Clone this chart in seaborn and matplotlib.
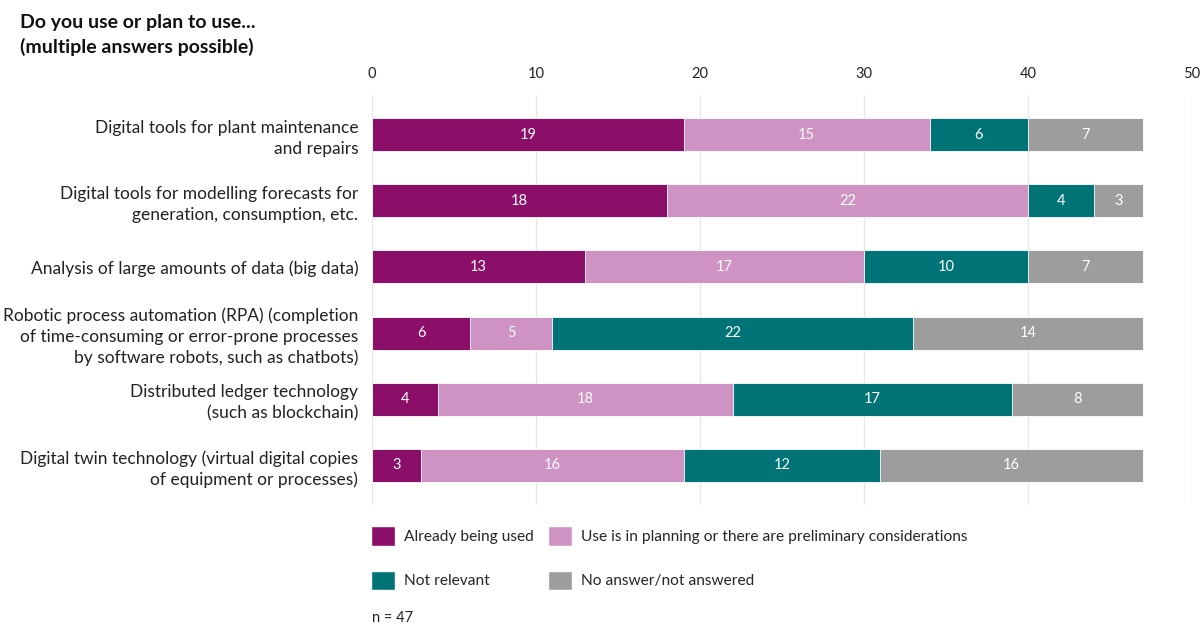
import numpy as np
import pandas as pd
import matplotlib
matplotlib.use('Agg')
import matplotlib.pyplot as plt
import matplotlib.patches as mpatches
import seaborn as sns

sns.set_style("white")
plt.rcParams['font.family'] = ['Lato', 'DejaVu Sans']

# data
categories = [
    'Digital tools for plant maintenance\nand repairs',
    'Digital tools for modelling forecasts for\ngeneration, consumption, etc.',
    'Analysis of large amounts of data (big data)',
    'Robotic process automation (RPA) (completion\nof time-consuming or error-prone processes\nby software robots, such as chatbots)',
    'Distributed ledger technology\n(such as blockchain)',
    'Digital twin technology (virtual digital copies\nof equipment or processes)',
]
already_used = [19, 18, 13, 6, 4, 3]
planning = [15, 22, 17, 5, 18, 16]
not_relevant = [6, 4, 10, 22, 17, 12]
no_answer = [7, 3, 7, 14, 8, 16]

series = ['Already being used',
          'Use is in planning or there are preliminary considerations',
          'Not relevant',
          'No answer/not answered']
colors = ['#8b0f68', '#cf93c3', '#007377', '#9d9d9d']

df = pd.DataFrame({'category': categories,
                   series[0]: already_used,
                   series[1]: planning,
                   series[2]: not_relevant,
                   series[3]: no_answer})
cum = df[series].cumsum(axis=1)

fig = plt.figure(figsize=(12.02, 6.25), dpi=100)
ax = fig.add_axes([0.3095, 0.192, 0.6822, 0.656])

# stacked bars: draw cumulative totals from largest to smallest
for s, c in reversed(list(zip(series, colors))):
    sns.barplot(x=cum[s], y=df['category'], orient='h', color=c, width=0.5,
                saturation=1, edgecolor='white', linewidth=0.6, ax=ax, zorder=2)

# segment labels
for i in range(len(df)):
    left = 0
    for s in series:
        v = df.loc[i, s]
        ax.text(left + v / 2, i, str(v), ha='center', va='center',
                color='white', fontsize=10.5, zorder=3)
        left += v

ax.set_xlim(0, 50)
ax.set_ylim(5.606, -0.606)
ax.set_xticks(range(0, 51, 10))
ax.xaxis.tick_top()
ax.tick_params(axis='x', length=0, labelsize=10.5, pad=10, colors='#222222')
ax.tick_params(axis='y', length=0, labelsize=12.5, pad=10, colors='#222222')
ax.grid(axis='x', color='#e6e6e6', linewidth=1, zorder=0)
ax.set_axisbelow(True)
ax.set_xlabel('')
ax.set_ylabel('')
for sp in ax.spines.values():
    sp.set_visible(False)
for lab in ax.get_yticklabels():
    lab.set_multialignment('right')
    lab.set_linespacing(1.35)

fig.text(0.017, 0.978, 'Do you use or plan to use...\n(multiple answers possible)',
         fontsize=14, fontweight='bold', va='top', ha='left', linespacing=1.45,
         color='#111111')

handles = [mpatches.Patch(facecolor=colors[i], edgecolor='white') for i in [0, 2, 1, 3]]
labels = [series[i] for i in [0, 2, 1, 3]]
fig.legend(handles, labels, ncol=2, loc='upper left', bbox_to_anchor=(0.3085, 0.158),
           frameon=False, fontsize=11.2, handlelength=1.55, handleheight=1.55,
           handletextpad=0.6, columnspacing=0.9, labelspacing=1.6, borderaxespad=0,
           borderpad=0)

fig.text(0.3095, 0.0, 'n = 47', fontsize=10.5, ha='left', va='bottom', color='#222222')

fig.savefig('out.png', dpi=100)
